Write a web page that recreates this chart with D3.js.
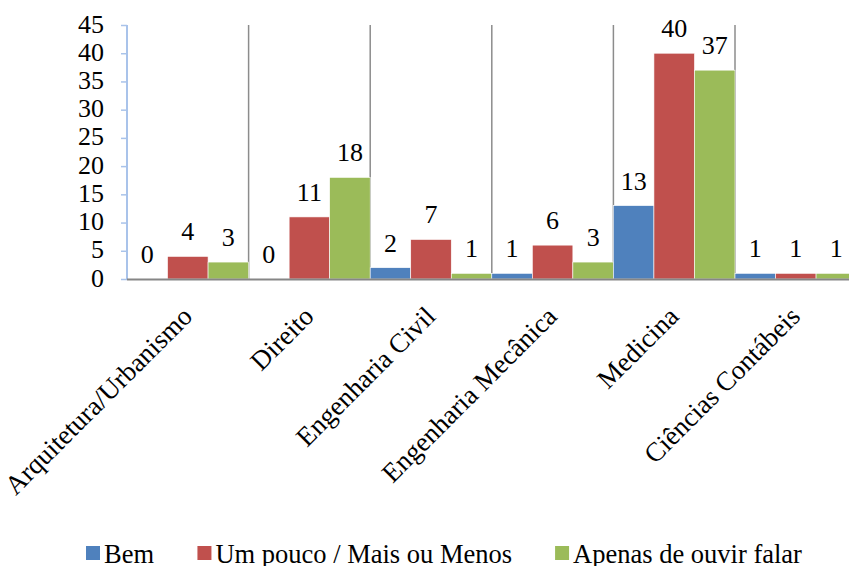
<!DOCTYPE html>
<html>
  <head>
    <meta charset="utf-8">
    <title>Cursos</title>
    <script src="https://d3js.org/d3.v7.min.js"></script>
    <style>
      body { margin: 0; background: #fff; }
    </style>
  </head>
  <body>
    <svg id="chart" width="849" height="566"></svg>
    <script>
      // data
      var categories = ["Arquitetura/Urbanismo", "Direito", "Engenharia Civil", "Engenharia Mecânica", "Medicina", "Ciências Contábeis"];
      var seriesNames = ["Bem", "Um pouco / Mais ou Menos", "Apenas de ouvir falar"];
      var bem = [0, 0, 2, 1, 13, 1];
      var umPouco = [4, 11, 7, 6, 40, 1];
      var apenas = [3, 18, 1, 3, 37, 1];
      var yTicks = [0, 5, 10, 15, 20, 25, 30, 35, 40, 45];
      var colors = ["#4f81bd", "#c0504d", "#9bbb59"];

      var series = [bem, umPouco, apenas];
      var rows = categories.map(function(c, i) {
        return { cat: c, values: series.map(function(s, j) { return { key: seriesNames[j], idx: j, value: s[i] }; }) };
      });

      var serif = "'Liberation Serif'";
      var svg = d3.select("#chart");
      var plotLeft = 127, plotRight = 856.6, plotTop = 25, plotBottom = 279;

      var x0 = d3.scaleBand().domain(categories).range([plotLeft, plotRight]).padding(0);
      var x1 = d3.scaleBand().domain(seriesNames).range([0, x0.bandwidth()]).padding(0);
      var y = d3.scaleLinear().domain([0, 45]).range([plotBottom, plotTop]);

      // vertical separators between categories
      svg.append("g")
        .selectAll("line")
          .data(categories.slice(1))
        .enter().append("line")
          .attr("x1", function(d) { return x0(d); })
          .attr("x2", function(d) { return x0(d); })
          .attr("y1", y(45))
          .attr("y2", y(0))
          .attr("stroke", "#8c8c8c")
          .attr("stroke-width", 1.5);

      // bars
      var groups = svg.append("g")
        .selectAll("g")
          .data(rows)
        .enter().append("g")
          .attr("transform", function(d) { return "translate(" + x0(d.cat) + ",0)"; });

      groups.selectAll("rect")
          .data(function(d) { return d.values; })
        .enter().append("rect")
          .attr("x", function(d) { return x1(d.key); })
          .attr("width", x1.bandwidth())
          .attr("y", function(d) { return y(d.value); })
          .attr("height", function(d) { return y(0) - y(d.value); })
          .attr("fill", function(d) { return colors[d.idx]; })
          .attr("stroke", "#fff")
          .attr("stroke-width", 0.6);

      // value labels
      groups.selectAll("text")
          .data(function(d) { return d.values; })
        .enter().append("text")
          .attr("x", function(d) { return x1(d.key) + x1.bandwidth() / 2; })
          .attr("y", function(d) { return y(d.value) - 16; })
          .attr("text-anchor", "middle")
          .style("font-family", serif)
          .style("font-size", "26px")
          .text(function(d) { return d.value; });

      // y axis
      var yAxis = svg.append("g")
        .attr("transform", "translate(" + plotLeft + ",0)")
        .call(d3.axisLeft(y).tickValues(yTicks).tickSize(6).tickPadding(17));
      yAxis.select(".domain").attr("stroke", "#a9c3ea").attr("stroke-width", 2)
        .attr("d", "M0," + y(45) + "V" + y(0));
      yAxis.selectAll(".tick line").attr("stroke", "#a9c3ea").attr("stroke-width", 1.5);
      yAxis.selectAll(".tick text")
        .attr("dy", "0.27em")
        .style("font-size", "26px")
        .style("font-family", serif);

      // x axis baseline
      svg.append("line")
        .attr("x1", plotLeft)
        .attr("x2", plotRight)
        .attr("y1", y(0) + 0.5)
        .attr("y2", y(0) + 0.5)
        .attr("stroke", "#868686")
        .attr("stroke-width", 1.8);

      // category labels
      svg.append("g")
        .selectAll("text")
          .data(categories)
        .enter().append("text")
          .attr("transform", function(d) { return "translate(" + (x0(d) + x0.bandwidth() / 2 + 6) + ",318) rotate(-45)"; })
          .attr("text-anchor", "end")
          .style("font-family", serif)
          .style("font-size", "27px")
          .text(function(d) { return d; });

      // legend
      var legend = svg.append("g");
      var items = legend.selectAll("g")
          .data(seriesNames)
        .enter().append("g");
      items.append("rect")
        .attr("width", 14)
        .attr("height", 14)
        .attr("y", 546)
        .attr("fill", function(d, i) { return colors[i]; });
      items.append("text")
        .attr("x", 18)
        .attr("y", 563)
        .style("font-family", serif)
        .style("font-size", "26.5px")
        .text(function(d) { return d; });
      var pos = 86;
      items.each(function() {
        d3.select(this).attr("transform", "translate(" + pos + ",0)");
        pos += this.getBBox().width + 43;
      });
    </script>
  </body>
</html>
